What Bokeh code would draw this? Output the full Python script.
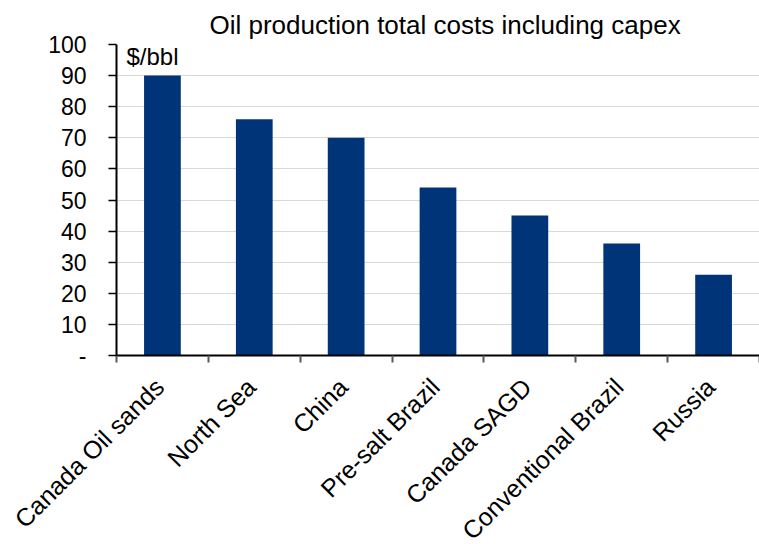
from bokeh.plotting import figure
from bokeh.models import Range1d, FixedTicker, Label, LabelSet, ColumnDataSource
from bokeh.embed import file_html
from bokeh.resources import INLINE
from bokeh.core.properties import value

# ---- data ----
categories = ["Canada Oil sands", "North Sea", "China", "Pre-salt Brazil",
              "Canada SAGD", "Conventional Brazil", "Russia"]
costs = [90, 76, 70, 54, 45, 36, 26]
y_ticks = [0, 10, 20, 30, 40, 50, 60, 70, 80, 90, 100]
y_tick_labels = ["-", "10", "20", "30", "40", "50", "60", "70", "80", "90", "100"]
title_text = "Oil production total costs including capex"
unit_text = "$/bbl"

FONT = "Liberation Sans"
BAR = "#003478"

# ---- layout numbers ----
W, H = 759, 544
LEFT, TOP, FRAME_H, AXIS_H = 116, 44, 311, 20
TOP_H = TOP + FRAME_H + AXIS_H
BOT_H = H - TOP_H

n = len(categories)
xs = [i + 0.5 for i in range(n)]
source = ColumnDataSource(dict(x=xs, cost=costs, cat=categories, lab_y=[1] * n))

p = figure(width=W, height=TOP_H, output_backend="svg", toolbar_location=None,
           x_range=Range1d(0, n), y_range=Range1d(0, 100),
           min_border_left=LEFT, min_border_right=0, min_border_top=TOP,
           min_border_bottom=AXIS_H, title=title_text)
p.background_fill_color = "white"
p.border_fill_color = "white"
p.outline_line_color = None

p.vbar(x="x", top="cost", width=0.4, source=source, fill_color=BAR, line_color=None)

# title
p.title.text_font = FONT
p.title.text_font_size = "26px"
p.title.text_font_style = "normal"
p.title.text_color = "black"
p.title.align = "left"
p.title.offset = 93
p.title.standoff = 9

# y axis
ya = p.yaxis[0]
ya.ticker = FixedTicker(ticks=y_ticks)
ya.major_label_overrides = {t: lab for t, lab in zip(y_ticks, y_tick_labels)}
ya.major_label_text_font = FONT
ya.major_label_text_font_size = "23px"
ya.major_label_text_color = "black"
ya.major_label_standoff = 22
ya.major_tick_out = 8
ya.major_tick_in = 0
ya.major_tick_line_color = "black"
ya.major_tick_line_width = 1.5
ya.minor_tick_line_color = None
ya.axis_line_color = "black"
ya.axis_line_width = 2

# x axis (ticks at category boundaries)
xa = p.xaxis[0]
bounds = list(range(n + 1))
xa.ticker = FixedTicker(ticks=bounds)
xa.major_label_overrides = {b: "" for b in bounds}
xa.major_label_text_font_size = "1px"
xa.major_label_standoff = 0
xa.major_tick_out = 7
xa.major_tick_in = 0
xa.major_tick_line_color = "#595959"
xa.major_tick_line_width = 2
xa.minor_tick_line_color = None
xa.axis_line_color = "black"
xa.axis_line_width = 2

p.xgrid.visible = False
p.ygrid.grid_line_color = "#d9d9d9"
p.ygrid.grid_line_width = 1

unit = Label(x=0, y=100, x_offset=10, y_offset=-12, text=unit_text,
             text_font=FONT, text_font_size="24px", text_color="black",
             text_align="left", text_baseline="alphabetic")
p.add_layout(unit)

# ---- category labels: separate strip below, same x scale (px per category) ----
px_per_unit = (W - LEFT) / n
q = figure(width=W, height=BOT_H, output_backend="svg", toolbar_location=None,
           x_range=Range1d(-LEFT / px_per_unit, n), y_range=Range1d(0, 1),
           x_axis_location=None, y_axis_location=None,
           min_border_left=0, min_border_right=0, min_border_top=0,
           min_border_bottom=0)
q.grid.visible = False
q.outline_line_color = None
q.background_fill_color = "white"
q.border_fill_color = "white"

labels = LabelSet(x="x", y="lab_y", text="cat", source=source,
                  angle=45, angle_units="deg", text_align="right",
                  text_baseline="middle", x_offset=-3, y_offset=-7,
                  text_font=value(FONT), text_font_size="25px", text_color="black")
q.add_layout(labels)

open("out.html", "w").write(file_html([p, q], INLINE))
